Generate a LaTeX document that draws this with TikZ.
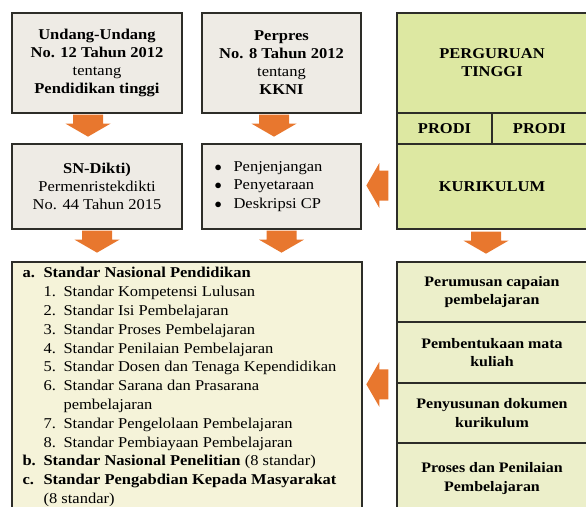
\documentclass[tikz,border=0pt]{standalone}
\usepackage{fontspec}
\setmainfont[FakeStretch=1.1]{Liberation Serif}
\usepackage{xcolor}
\usepackage{tikz}
\usetikzlibrary{positioning, calc}
\definecolor{boxgray}{RGB}{238,235,229}
\definecolor{boxgreen}{RGB}{221,232,162}
\definecolor{boxpale}{RGB}{236,239,202}
\definecolor{boxcream}{RGB}{245,243,217}
\definecolor{myorange}{RGB}{232,119,46}
\definecolor{mydark}{RGB}{45,45,40}
\newcommand{\lvla}[1]{\makebox[21pt][l]{\bfseries #1}}
\newcommand{\lvlb}[1]{\hspace*{21pt}\makebox[20pt][l]{#1}}
\tikzset{
  lawbox/.style={rectangle, draw=mydark, fill=boxgray, line width=1.3pt,
    align=center, inner sep=0pt, font=\fontsize{15}{18}\selectfont},
  greenbox/.style={rectangle, draw=mydark, fill=boxgreen, line width=1.3pt,
    align=center, inner sep=0pt, font=\fontsize{15}{18}\selectfont\bfseries},
  stepbox/.style={rectangle, draw=mydark, fill=boxpale, line width=1.3pt,
    align=center, inner sep=0pt, font=\fontsize{14.5}{18.5}\selectfont\bfseries},
  downarr/.pic={\fill[myorange] (-15,0) -- (15,0) -- (15,9) -- (22.5,9) -- (0,22) -- (-22.5,9) -- (-15,9) -- cycle;}
}

\begin{document}
\begin{tikzpicture}[x=1pt, y=-1pt]
\useasboundingbox (0,0) rectangle (586,506);
\clip (0,0) rectangle (586,506);
% top row
\node[lawbox, minimum width=170pt, minimum height=100pt] (uu) at (97,63)
  {\bfseries Undang-Undang\\ \bfseries No. 12 Tahun 2012\\ tentang\\ \bfseries Pendidikan tinggi};
\node[lawbox, minimum width=159pt, minimum height=100pt] (pp) at (281.5,63)
  {\bfseries Perpres\\ \bfseries No. 8 Tahun 2012\\ tentang\\ \bfseries KKNI};
\node[greenbox, minimum width=190pt, minimum height=100pt] (pt) at (492,63) {PERGURUAN\\ TINGGI};
\node[greenbox, minimum width=95pt, minimum height=31pt] (prodiA) at (444.5,128.5) {PRODI};
\node[greenbox, minimum width=95pt, minimum height=31pt] (prodiB) at (539.5,128.5) {PRODI};
% second row
\node[lawbox, minimum width=170pt, minimum height=85pt] (sn) at (97,186.5)
  {\bfseries SN-Dikti)\\ Permenristekdikti\\ No. 44 Tahun 2015};
\node[lawbox, minimum width=159pt, minimum height=85pt] (cp) at (281.5,186.5) {};
\node[anchor=west, align=left, font=\fontsize{15}{18.5}\selectfont, inner sep=0pt] (cplist) at ($(cp.west)+(13,0)$)
  {\makebox[19pt][l]{$\bullet$}Penjenjangan\\ \makebox[19pt][l]{$\bullet$}Penyetaraan\\ \makebox[19pt][l]{$\bullet$}Deskripsi CP};
\node[greenbox, minimum width=190pt, minimum height=85pt] (kur) at (492,186.5) {KURIKULUM};
% standar
\node[rectangle, draw=mydark, fill=boxcream, line width=1.3pt, minimum width=350pt, minimum height=268pt] (std) at (187,396) {};
\node[anchor=north west, align=left, inner sep=0pt, font=\fontsize{15}{18.8}\selectfont] (stdlist) at ($(std.north west)+(11,6)$)
  {\lvla{a.}\textbf{Standar Nasional Pendidikan}\\
   \lvlb{1.}Standar Kompetensi Lulusan\\
   \lvlb{2.}Standar Isi Pembelajaran\\
   \lvlb{3.}Standar Proses Pembelajaran\\
   \lvlb{4.}Standar Penilaian Pembelajaran\\
   \lvlb{5.}Standar Dosen dan Tenaga Kependidikan\\
   \lvlb{6.}Standar Sarana dan Prasarana\\
   \hspace*{41pt}pembelajaran\\
   \lvlb{7.}Standar Pengelolaan Pembelajaran\\
   \lvlb{8.}Standar Pembiayaan Pembelajaran\\
   \lvla{b.}\textbf{Standar Nasional Penelitian} (8 standar)\\
   \lvla{c.}\textbf{Standar Pengabdian Kepada Masyarakat}\\
   \hspace*{21pt}(8 standar)};
% langkah kurikulum
\node[stepbox, minimum width=190pt, minimum height=60pt] (r1) at (492,292) {Perumusan capaian\\ pembelajaran};
\node[stepbox, minimum width=190pt, minimum height=61pt] (r2) at (492,352.5) {Pembentukaan mata\\ kuliah};
\node[stepbox, minimum width=190pt, minimum height=60pt] (r3) at (492,413) {Penyusunan dokumen\\ kurikulum};
\node[stepbox, minimum width=190pt, minimum height=71pt] (r4) at (492,478.5) {Proses dan Penilaian\\ Pembelajaran};
% panah
\pic at ($(uu.south)+(-9,1)$) {downarr};
\pic at ($(pp.south)+(-7.5,1)$) {downarr};
\pic at ($(sn.south)+(0,1)$) {downarr};
\pic at ($(cp.south)+(0,1)$) {downarr};
\pic at ($(kur.south)+(-6,2)$) {downarr};
\pic[rotate=-90] at ($(kur.west)+(-8,-1)$) {downarr};
\pic[rotate=-90] at ($(r3.north west)+(-8,2)$) {downarr};
\end{tikzpicture}
\end{document}
